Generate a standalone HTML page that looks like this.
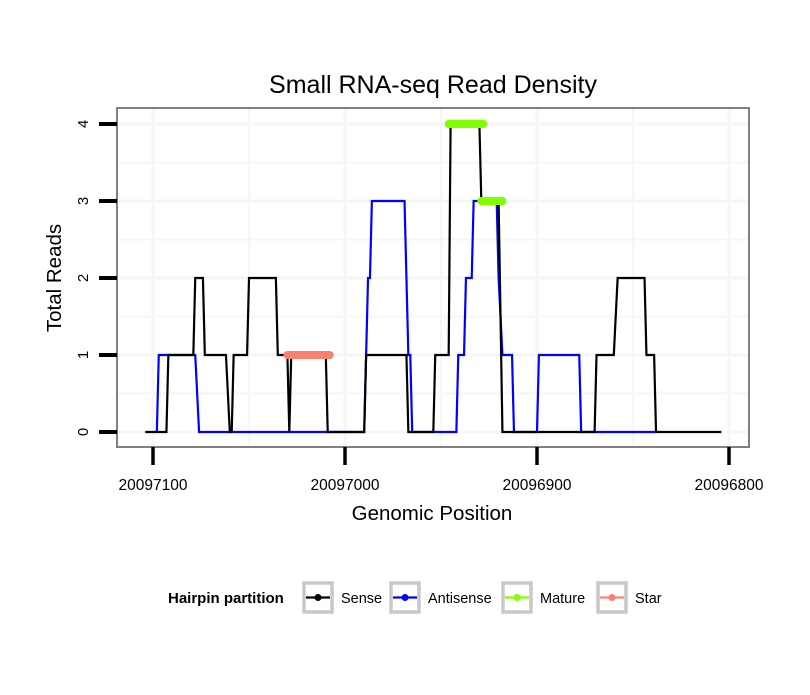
<!DOCTYPE html>
<html><head><meta charset="utf-8"><style>
body{margin:0;background:#fff;font-family:"Liberation Sans",sans-serif}
</style></head><body>
<svg id="chart" width="810" height="690" xmlns="http://www.w3.org/2000/svg" font-family="Liberation Sans, sans-serif">
<text x="433" y="93" font-size="25" text-anchor="middle">Small RNA-seq Read Density</text>
<g id="grid"></g>
<g id="marks"></g>
<rect x="117" y="108" width="632" height="339" fill="none" stroke="#808080" stroke-width="2"/>
<g id="axes"></g>
<text x="432" y="520" font-size="20.5" text-anchor="middle">Genomic Position</text>
<text transform="translate(61,278) rotate(-90)" font-size="20.5" text-anchor="middle">Total Reads</text>
<g>
<text x="168" y="603" font-size="15" font-weight="bold">Hairpin partition</text>
<g id="legend"></g>
</g>
</svg>
<script>
const xTicks=[20097100,20097000,20096900,20096800];
const yTicks=[0,1,2,3,4];
const senseX=[20097104,20097093,20097092,20097079,20097078,20097074,20097073,20097062,20097060,20097059,20097058,20097051,20097050,20097036,20097035,20097030,20097029,20097028,20097010,20097009,20096990,20096989,20096968,20096967,20096954,20096953,20096946,20096945,20096930,20096929,20096920,20096918,20096870,20096869,20096860,20096858,20096844,20096843,20096839,20096838,20096804];
const senseY=[0,0,1,1,2,2,1,1,0,0,1,1,2,2,1,1,0,1,1,0,0,1,1,0,0,1,1,4,4,3,3,0,0,1,1,2,2,1,1,0,0];
const antiX=[20097098,20097097,20097078,20097076,20096990,20096988,20096987,20096986,20096969,20096967,20096966,20096965,20096942,20096941,20096938,20096937,20096934,20096933,20096921,20096920,20096918,20096913,20096912,20096900,20096899,20096878,20096877,20096838];
const antiY=[0,1,1,0,0,2,2,3,3,1,1,0,0,1,1,2,2,3,3,2,1,1,0,0,1,1,0,0];
const matureStart=[20096946,20096929];
const matureEnd=[20096928,20096918];
const matureY=[4,3];
const starStart=[20097030];
const starEnd=[20097008];
const starY=[1];
const legendLabels=["Sense","Antisense","Mature","Star"];
const legendColors=["#000","#00f","#7fff00","#fa8072"];

const NS="http://www.w3.org/2000/svg";
const xs=v=>153+(20097100-v)*1.92;
const ys=v=>432-v*77;
function mk(tag,attrs,parent){const e=document.createElementNS(NS,tag);for(const k in attrs)e.setAttribute(k,attrs[k]);parent.appendChild(e);return e;}
const grid=document.getElementById('grid'),marks=document.getElementById('marks'),axes=document.getElementById('axes'),legend=document.getElementById('legend');
for(let v=-0.5;v<=4.5;v+=0.5){const y=ys(v);if(y<108||y>447)continue;
 const l=mk('line',{x1:117,x2:749,y1:y,y2:y,stroke:'#f6f6f6','stroke-width':Number.isInteger(v)?3:2},grid);
 
 }
for(let v=20097150;v>=20096750;v-=50){const x=xs(v);if(x<117||x>749)continue;
 const l=mk('line',{x1:x,x2:x,y1:108,y2:447,stroke:'#f6f6f6','stroke-width':(v%100===0)?3:2},grid);
 
 }
function poly(X,Y,color,name){
 const p=mk('polyline',{points:X.map((x,i)=>xs(x)+','+ys(Y[i])).join(' '),fill:'none',stroke:color,'stroke-width':2.2,'stroke-linejoin':'miter'},marks);
 
 }
poly(antiX,antiY,'#00f','antisense-line');
poly(senseX,senseY,'#000','sense-line');
function segs(S,E,Y,color,name){S.forEach((s,i)=>{
 const l=mk('line',{x1:xs(s),x2:xs(E[i]),y1:ys(Y[i]),y2:ys(Y[i]),stroke:color,'stroke-width':8,'stroke-linecap':'round'},marks);
 
 });}
segs(starStart,starEnd,starY,'#fa8072','star-segment');
segs(matureStart,matureEnd,matureY,'#7fff00','mature-segment');
yTicks.forEach(v=>{const y=ys(v);
 const t=mk('line',{x1:99,x2:117,y1:y,y2:y,stroke:'#000','stroke-width':4},axes);
 
 
 const tx=mk('text',{transform:`translate(88,${y}) rotate(-90)`,'font-size':15,'text-anchor':'middle'},axes);
 tx.textContent=v;
 
 });
xTicks.forEach(v=>{const x=xs(v);
 const t=mk('line',{x1:x,x2:x,y1:447,y2:465,stroke:'#000','stroke-width':3.5},axes);
 
 
 const tx=mk('text',{x:x,y:490,'font-size':15.5,'text-anchor':'middle'},axes);
 tx.textContent=v;
 
 });
const boxX=[304,391,503,598];
legendLabels.forEach((lab,i)=>{const bx=boxX[i];
 const b=mk('rect',{x:bx,y:583,width:28,height:29,fill:'#fff',stroke:'#c8c8c8','stroke-width':3.5},legend);
 
 
 mk('line',{x1:bx+2,x2:bx+26,y1:597.5,y2:597.5,stroke:legendColors[i],'stroke-width':2.2},legend);
 mk('circle',{cx:bx+14,cy:597.5,r:3.5,fill:legendColors[i]},legend);
 const t=mk('text',{x:bx+37,y:603,'font-size':14.5},legend);
 t.textContent=lab;
 
 });
</script>
</body></html>
